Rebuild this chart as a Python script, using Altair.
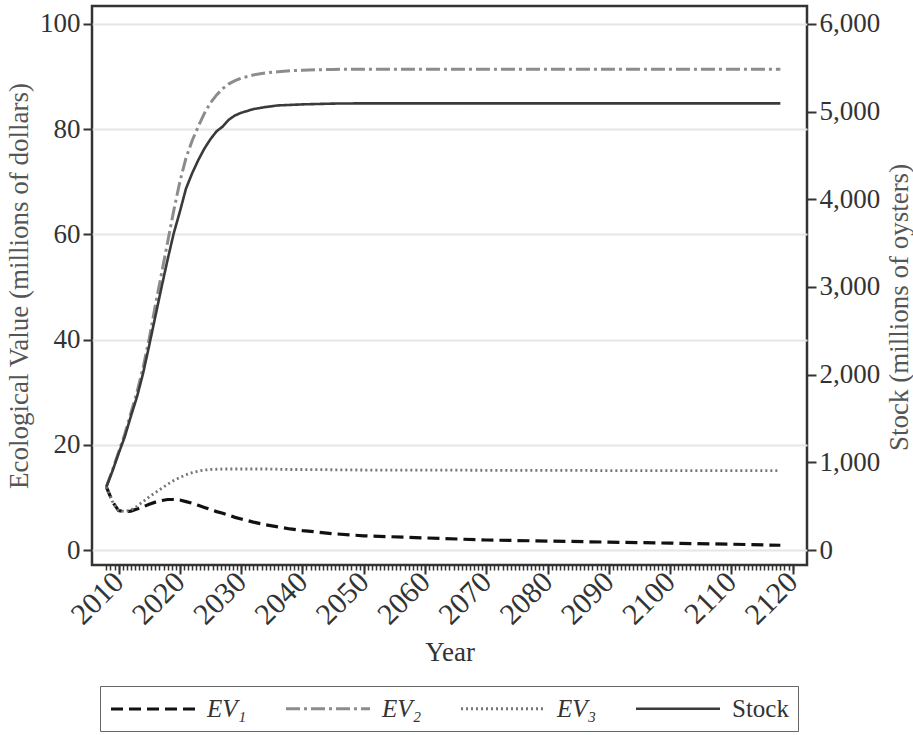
import altair as alt
import pandas as pd

# ---- data ----
years = list(range(2008, 2031)) + [2032, 2034, 2036, 2038, 2040, 2045, 2050,
                                   2060, 2070, 2080, 2090, 2100, 2110, 2118]

ev1 = [12.0, 9.2, 7.5, 7.3, 7.4, 7.8, 8.2, 8.7, 9.1, 9.4, 9.6, 9.6, 9.5, 9.2,
       8.9, 8.5, 8.1, 7.7, 7.3, 7.0, 6.6, 6.2, 5.9,
       5.3, 4.8, 4.4, 4.0, 3.7, 3.1, 2.7, 2.3, 1.9, 1.7, 1.5, 1.3, 1.1, 0.9]

ev2 = [12.0, 15.2, 18.6, 22.0, 26.0, 30.0, 34.7, 40.2, 46.5, 52.5, 58.5, 64.5,
       70.0, 74.5, 77.8, 80.5, 83.0, 85.0, 86.5, 87.7, 88.6, 89.2, 89.7,
       90.3, 90.7, 90.9, 91.1, 91.2, 91.35, 91.4, 91.4, 91.4, 91.4, 91.4,
       91.4, 91.4, 91.4]

ev3 = [12.0, 9.2, 7.5, 7.3, 7.6, 8.3, 9.2, 10.1, 10.9, 11.7, 12.5, 13.2, 13.8,
       14.3, 14.7, 15.0, 15.2, 15.3, 15.35, 15.4, 15.4, 15.4, 15.4,
       15.4, 15.4, 15.35, 15.3, 15.3, 15.25, 15.2, 15.2, 15.15, 15.15, 15.1,
       15.1, 15.1, 15.1]

stock = [720, 900, 1100, 1290, 1524, 1746, 2016, 2334, 2664, 2994, 3312, 3612,
         3858, 4122, 4296, 4446, 4578, 4686, 4776, 4830, 4908, 4956, 4986,
         5028, 5052, 5070, 5076, 5082, 5091, 5094, 5094, 5094, 5094, 5094,
         5094, 5094, 5094]

series_names = ["EV\u2081", "EV\u2082", "EV\u2083", "Stock"]
series_colors = ["#111111", "#8c8c8c", "#777777", "#3a3a3a"]
series_dash = [[12, 6], [14, 4, 3, 4], [2, 3], [1, 0]]
series_width = [3.2, 2.6, 2.0, 3.2]

major_years = list(range(2010, 2121, 10))
minor_ticks = [2008 + k * 2 / 3 for k in range(0, 169)]
ev_ticks = [0, 20, 40, 60, 80, 100]
stock_ticks = [0, 1000, 2000, 3000, 4000, 5000, 6000]

# ---- tables ----
ev_rows = []
for name, vals in zip(series_names[:3], [ev1, ev2, ev3]):
    for y, v in zip(years, vals):
        ev_rows.append({"year": y, "value": v, "series": name})
ev_df = pd.DataFrame(ev_rows)
stock_df = pd.DataFrame({"year": years, "stock": stock, "series": "Stock"})

FONT = "Liberation Serif"
FS = 27
xscale = alt.Scale(domain=[2005.66, 2122.35], nice=False, zero=False)

color_enc = alt.Color(
    "series:N",
    scale=alt.Scale(domain=series_names, range=series_colors),
    title=None,
    legend=alt.Legend(
        orient="none", legendX=8, legendY=680, direction="horizontal",
        columns=4, symbolType="M-1,0H6", symbolSize=576,
        labelFontSize=25, labelFont=FONT, labelColor="#333333",
        labelFontStyle=alt.ExprRef("datum.label == 'Stock' ? 'normal' : 'italic'"),
        labelOffset=70, columnPadding=33, padding=9,
        strokeColor="#666666", fillColor="white", labelLimit=200,
    ),
)
dash_enc = alt.StrokeDash("series:N",
                          scale=alt.Scale(domain=series_names, range=series_dash),
                          title=None)
width_enc = alt.StrokeWidth("series:N",
                            scale=alt.Scale(domain=series_names, range=series_width),
                            title=None)

ev_layer = alt.Chart(ev_df).mark_line().encode(
    x=alt.X("year:Q", scale=xscale,
            axis=alt.Axis(values=major_years, format="d", labelAngle=-45,
                          labelAlign="right", labelBaseline="middle",
                          labelOverlap=False, labelBound=False,
                          tickSize=9, tickWidth=2, tickColor="#333333",
                          labelFontSize=30, labelFont=FONT, labelColor="#333333",
                          labelPadding=3, title="Year", titleFontSize=FS,
                          titleFont=FONT, titleFontWeight="normal",
                          titleColor="#333333", titlePadding=9,
                          grid=False, domain=False)),
    y=alt.Y("value:Q",
            scale=alt.Scale(domain=[-2.85, 103.4], nice=False, zero=False),
            axis=alt.Axis(values=ev_ticks, orient="left", tickSize=9,
                          tickWidth=2, tickColor="#333333",
                          labelFontSize=FS, labelFont=FONT, labelColor="#333333",
                          labelPadding=3,
                          title="Ecological Value (millions of dollars)",
                          titleFontSize=FS, titleFont=FONT,
                          titleFontWeight="normal", titleColor="#555555",
                          titlePadding=6, grid=True, gridColor="#e6e6e6",
                          gridWidth=2, domain=False)),
    color=color_enc,
    strokeDash=dash_enc,
    strokeWidth=width_enc,
    detail="series:N",
    order="year:Q",
)

stock_layer = alt.Chart(stock_df).mark_line().encode(
    x=alt.X("year:Q", scale=xscale,
            axis=alt.Axis(values=minor_ticks, orient="bottom", labels=False,
                          tickSize=5, tickWidth=1.5, tickColor="#333333",
                          title=None, grid=False, domain=False)),
    y=alt.Y("stock:Q",
            scale=alt.Scale(domain=[-171, 6204], nice=False, zero=False),
            axis=alt.Axis(values=stock_ticks, orient="right", format=",.0f",
                          formatType="number",
                          tickSize=9, tickWidth=2, tickColor="#333333",
                          labelFontSize=FS, labelFont=FONT, labelColor="#333333",
                          labelPadding=3,
                          title="Stock (millions of oysters)", titleAngle=270,
                          titleFontSize=FS, titleFont=FONT,
                          titleFontWeight="normal", titleColor="#555555",
                          titleX=92, titleY=301, titleAlign="center",
                          titleBaseline="middle", grid=False,
                          domain=False)),
    color=color_enc,
    strokeDash=dash_enc,
    strokeWidth=width_enc,
    order="year:Q",
)

chart = alt.layer(ev_layer, stock_layer).resolve_scale(
    y="independent"
).resolve_axis(
    x="independent", y="independent"
).properties(
    width=715, height=559,
    autosize=alt.AutoSizeParams(type="none"),
    padding={"left": 92, "top": 6, "right": 106, "bottom": 170},
    background="white",
).configure_view(
    stroke="#333333", strokeWidth=2.5
)

chart.save("out.html", embed_options={"renderer": "svg", "actions": False})
